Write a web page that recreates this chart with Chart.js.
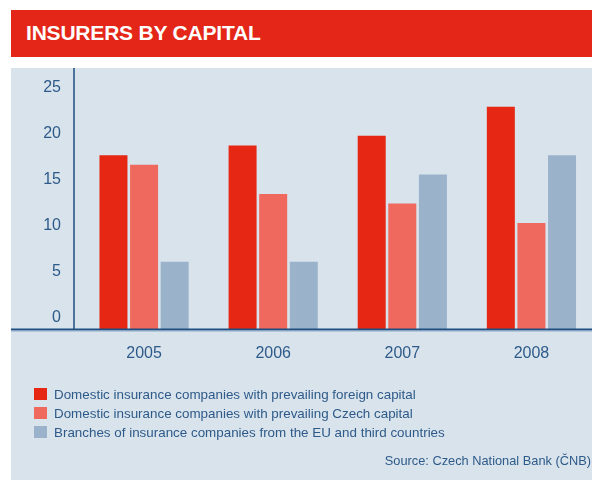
<!DOCTYPE html>
<html>
<head>
<meta charset="utf-8">
<script src="https://cdn.jsdelivr.net/npm/chart.js@4/dist/chart.umd.min.js"></script>
<style>
  html, body { margin:0; padding:0; width:592px; height:480px; overflow:hidden; background:#fff; }
  #title { position:absolute; left:11px; top:10px; width:581px; height:47px; background:#E42618; }
  #title span { position:absolute; left:15px; top:11px; color:#fff; font:bold 21px "Liberation Sans", Arial, sans-serif; letter-spacing:-0.2px; white-space:nowrap; }
  #panel { position:absolute; left:11px; top:68px; width:581px; height:412px; background:#D9E3EC; }
  #wrap { position:absolute; left:0; top:0; width:596px; height:480px; }
  #legend { position:absolute; left:34px; top:388px; font:13.4px "Liberation Sans", Arial, sans-serif; color:#2D5A89; }
  .row { position:relative; height:19px; white-space:nowrap; }
  .sw { position:absolute; left:0; top:0; width:13px; height:12px; }
  .lt { position:absolute; left:20px; top:-1px; line-height:16px; }
  #source { position:absolute; right:1px; top:453px; font:12.8px "Liberation Sans", Arial, sans-serif; color:#2D5A89; white-space:nowrap; }
</style>
</head>
<body>
<div id="title"><span>INSURERS BY CAPITAL</span></div>
<div id="panel"></div>
<div id="wrap"><canvas id="c" width="596" height="480"></canvas></div>
<div id="legend"></div>
<div id="source">Source: Czech National Bank (ČNB)</div>
<script>
const categories = ['2005', '2006', '2007', '2008'];
const foreignCapital = [18, 19, 20, 23];
const czechCapital = [17, 14, 13, 11];
const euBranches = [7, 7, 16, 18];
const seriesNames = [
  'Domestic insurance companies with prevailing foreign capital',
  'Domestic insurance companies with prevailing Czech capital',
  'Branches of insurance companies from the EU and third countries'
];
const seriesColors = ['#E52713', '#EF695E', '#9AB3CB'];
const yTickLabels = [0, 5, 10, 15, 20, 25];

const TEXT = '#2D5A89';
const AXIS = '#1F4E80';

// HTML legend built from series arrays
const legend = document.getElementById('legend');
seriesNames.forEach((n, i) => {
  const r = document.createElement('div'); r.className = 'row';
  r.innerHTML = '<div class="sw" style="background:' + seriesColors[i] + '"></div><div class="lt">' + n + '</div>';
  legend.appendChild(r);
});

const axisLines = {
  id: 'axisLines',
  afterDatasetsDraw(chart) {
    const ctx = chart.ctx, a = chart.chartArea;
    const y0 = chart.scales.y.getPixelForValue(0);
    ctx.save();
    ctx.strokeStyle = AXIS; ctx.lineWidth = 1.5;
    ctx.beginPath(); ctx.moveTo(74, a.top); ctx.lineTo(74, y0); ctx.stroke();
    ctx.lineWidth = 2;
    ctx.beginPath(); ctx.moveTo(11, y0); ctx.lineTo(chart.width, y0); ctx.stroke();
    ctx.strokeStyle = '#8FAACB'; ctx.lineWidth = 1;
    ctx.beginPath(); ctx.moveTo(11, y0 + 1.5); ctx.lineTo(chart.width, y0 + 1.5); ctx.stroke();
    ctx.restore();
  }
};

const dsCommon = { barPercentage: 0.915, categoryPercentage: 0.711, borderWidth: 0 };
new Chart(document.getElementById('c'), {
  type: 'bar',
  data: {
    labels: categories,
    datasets: [
      Object.assign({ label: seriesNames[0], data: foreignCapital, backgroundColor: seriesColors[0] }, dsCommon),
      Object.assign({ label: seriesNames[1], data: czechCapital, backgroundColor: seriesColors[1] }, dsCommon),
      Object.assign({ label: seriesNames[2], data: euBranches, backgroundColor: seriesColors[2] }, dsCommon)
    ]
  },
  options: {
    responsive: false,
    devicePixelRatio: 1,
    animation: false,
    layout: { padding: { top: 68, left: 0, right: 0, bottom: 0 } },
    plugins: { legend: { display: false }, tooltip: { enabled: false } },
    scales: {
      x: {
        grid: { display: false, drawTicks: false },
        border: { display: false },
        ticks: { color: TEXT, font: { family: '"Liberation Sans", Arial, sans-serif', size: 16 }, padding: 14 },
        afterFit(s) { s.height = 150.5; }
      },
      y: { display: false, min: 0, max: 27 },
      yl: {
        position: 'left',
        min: -1.25, max: 27.174,
        grid: { display: false, drawTicks: false },
        border: { display: false },
        ticks: { color: TEXT, font: { family: '"Liberation Sans", Arial, sans-serif', size: 16 }, padding: 18.5 },
        afterBuildTicks(s) { s.ticks = yTickLabels.map(v => ({ value: v })); },
        afterFit(s) { s.width = 79.5; }
      }
    }
  },
  plugins: [axisLines]
});
</script>
</body>
</html>
